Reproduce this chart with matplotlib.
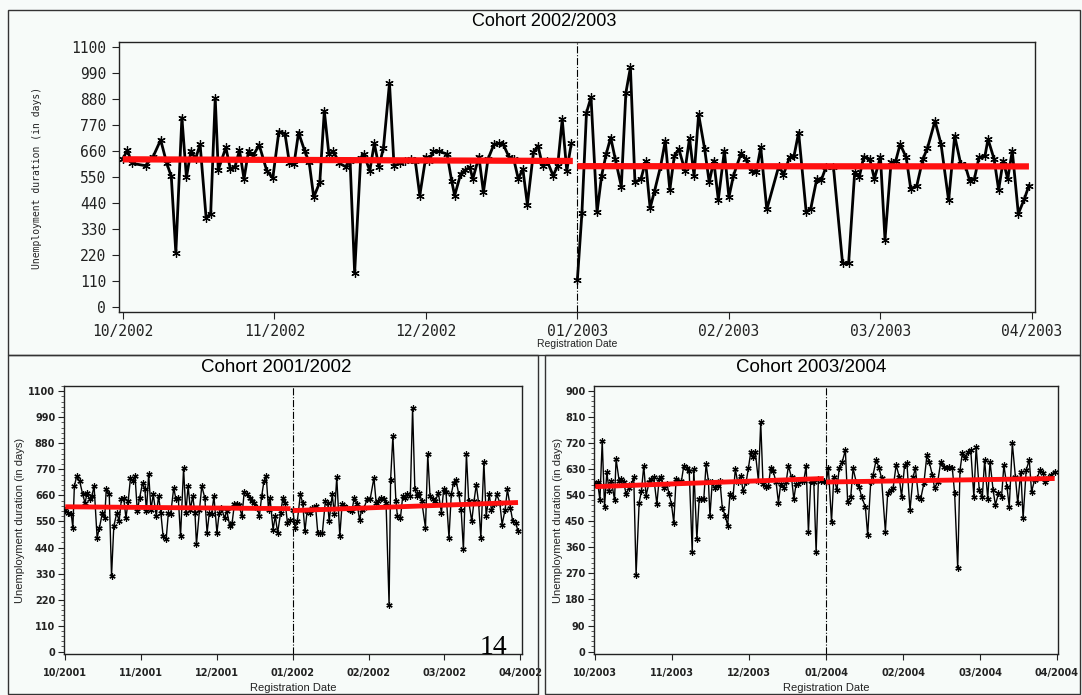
import matplotlib
matplotlib.use('Agg')
import matplotlib.pyplot as plt
from matplotlib.patches import Rectangle
from matplotlib.ticker import MultipleLocator

# x values are months since the start of October (0 = 10/yyyy, 6 = 04/yyyy)
month_labels_0203 = ['10/2002', '11/2002', '12/2002', '01/2003', '02/2003', '03/2003', '04/2003']
month_labels_0102 = ['10/2001', '11/2001', '12/2001', '01/2002', '02/2002', '03/2002', '04/2002']
month_labels_0304 = ['10/2003', '11/2003', '12/2003', '01/2004', '02/2004', '03/2004', '04/2004']

# ---- Cohort 2002/2003 ----
top_x1 = [0.00, 0.03, 0.06, 0.15, 0.20, 0.25, 0.29, 0.32, 0.35, 0.39,
          0.42, 0.45, 0.48, 0.51, 0.55, 0.58, 0.61, 0.63, 0.68, 0.71,
          0.74, 0.77, 0.80, 0.83, 0.86, 0.90, 0.95, 0.99, 1.03, 1.07,
          1.10, 1.13, 1.16, 1.20, 1.23, 1.26, 1.30, 1.33, 1.36, 1.39,
          1.43, 1.47, 1.50, 1.53, 1.57, 1.59, 1.63, 1.66, 1.69, 1.72,
          1.76, 1.79, 1.83, 1.86, 1.90, 1.93, 1.96, 2.00, 2.02, 2.05,
          2.09, 2.14, 2.17, 2.19, 2.23, 2.26, 2.29, 2.31, 2.35, 2.38,
          2.41, 2.45, 2.48, 2.51, 2.55, 2.58, 2.61, 2.64, 2.67, 2.71,
          2.74, 2.77, 2.80, 2.84, 2.87, 2.90, 2.93, 2.96]
top_y1 = [625, 663, 607, 597, 635, 706, 607, 552, 229, 800,
          548, 660, 625, 688, 376, 394, 883, 579, 674, 583,
          590, 663, 541, 660, 639, 685, 576, 545, 741, 733,
          607, 604, 737, 660, 611, 464, 527, 828, 646, 657,
          607, 593, 618, 143, 629, 646, 576, 691, 593, 671,
          946, 597, 607, 615, 625, 618, 471, 635, 618, 657,
          657, 646, 534, 471, 562, 579, 590, 541, 635, 485,
          625, 688, 691, 688, 632, 625, 541, 583, 433, 653,
          681, 597, 618, 555, 597, 793, 576, 691]
top_x2 = [3.00, 3.03, 3.06, 3.09, 3.13, 3.16, 3.19, 3.22, 3.25, 3.29,
          3.32, 3.35, 3.38, 3.42, 3.45, 3.48, 3.51, 3.55, 3.58, 3.61,
          3.64, 3.67, 3.71, 3.74, 3.77, 3.80, 3.84, 3.87, 3.90, 3.93,
          3.97, 4.00, 4.03, 4.08, 4.11, 4.15, 4.18, 4.21, 4.25, 4.33,
          4.36, 4.40, 4.43, 4.46, 4.51, 4.54, 4.58, 4.61, 4.64, 4.69,
          4.75, 4.79, 4.83, 4.86, 4.89, 4.93, 4.96, 5.00, 5.03, 5.07,
          5.10, 5.13, 5.17, 5.20, 5.24, 5.28, 5.31, 5.36, 5.40, 5.45,
          5.49, 5.53, 5.56, 5.59, 5.62, 5.65, 5.69, 5.71, 5.75, 5.78,
          5.81, 5.84, 5.87, 5.91, 5.95, 5.98]
top_y2 = [115, 397, 821, 886, 401, 555, 646, 716, 625, 509,
          905, 1012, 527, 541, 615, 418, 492, 597, 702, 495,
          639, 667, 576, 713, 555, 814, 667, 527, 618, 453,
          660, 464, 555, 649, 625, 576, 569, 674, 412, 597,
          559, 632, 639, 737, 401, 415, 541, 537, 590, 590,
          185, 185, 569, 548, 635, 625, 541, 635, 285, 611,
          615, 688, 632, 499, 513, 625, 671, 786, 688, 450,
          723, 604, 597, 531, 541, 632, 639, 709, 625, 495,
          618, 541, 660, 394, 457, 513]
top_trend_x = [[0.0, 2.97], [3.0, 5.98]]
top_trend_y = [[624, 617], [595, 594]]

# ---- Cohort 2001/2002 ----
bl_x1 = [0.00, 0.04, 0.08, 0.10, 0.12, 0.15, 0.19, 0.23, 0.26, 0.29,
         0.32, 0.35, 0.38, 0.42, 0.45, 0.49, 0.52, 0.54, 0.58, 0.61,
         0.64, 0.68, 0.71, 0.74, 0.77, 0.80, 0.83, 0.86, 0.89, 0.92,
         0.95, 0.98, 1.02, 1.05, 1.07, 1.10, 1.13, 1.16, 1.20, 1.23,
         1.26, 1.29, 1.33, 1.36, 1.39, 1.43, 1.46, 1.49, 1.52, 1.56,
         1.59, 1.62, 1.65, 1.68, 1.71, 1.73, 1.77, 1.80, 1.84, 1.87,
         1.90, 1.93, 1.96, 2.00, 2.03, 2.06, 2.10, 2.13, 2.17, 2.20,
         2.23, 2.26, 2.29, 2.33, 2.36, 2.40, 2.43, 2.46, 2.49, 2.53,
         2.56, 2.59, 2.62, 2.65, 2.68, 2.70, 2.74, 2.77, 2.80, 2.84,
         2.87, 2.90, 2.93, 2.97]
bl_y1 = [600, 587, 580, 523, 699, 741, 720, 664, 629, 671,
         643, 657, 699, 481, 523, 587, 565, 685, 664, 319,
         530, 587, 551, 643, 650, 565, 636, 734, 720, 741,
         594, 650, 713, 685, 594, 751, 600, 664, 573, 657,
         587, 488, 474, 587, 580, 692, 643, 650, 488, 774,
         587, 699, 600, 657, 587, 453, 600, 699, 650, 502,
         587, 580, 657, 502, 587, 608, 565, 594, 530, 544,
         622, 622, 619, 573, 675, 664, 650, 636, 629, 608,
         573, 657, 720, 741, 600, 650, 516, 573, 502, 587,
         650, 629, 544, 558]
bl_x2 = [3.00, 3.03, 3.06, 3.10, 3.13, 3.16, 3.19, 3.23, 3.26, 3.30,
         3.33, 3.36, 3.39, 3.43, 3.46, 3.48, 3.52, 3.55, 3.58, 3.62,
         3.65, 3.68, 3.71, 3.75, 3.78, 3.81, 3.85, 3.88, 3.91, 3.94,
         3.98, 4.02, 4.07, 4.10, 4.13, 4.16, 4.20, 4.23, 4.27, 4.29,
         4.32, 4.36, 4.38, 4.42, 4.45, 4.48, 4.51, 4.55, 4.58, 4.61,
         4.64, 4.67, 4.70, 4.75, 4.78, 4.81, 4.85, 4.88, 4.92, 4.96,
         4.99, 5.02, 5.06, 5.09, 5.12, 5.15, 5.19, 5.22, 5.25, 5.29,
         5.32, 5.36, 5.39, 5.42, 5.45, 5.48, 5.52, 5.55, 5.59, 5.62,
         5.66, 5.69, 5.73, 5.76, 5.80, 5.83, 5.87, 5.90, 5.94, 5.97]
bl_y2 = [600, 523, 551, 664, 629, 509, 594, 587, 608, 615,
         502, 502, 502, 636, 629, 551, 664, 580, 737, 488,
         622, 615, 608, 600, 594, 650, 622, 558, 600, 608,
         643, 643, 734, 629, 636, 650, 643, 629, 197, 727,
         910, 636, 573, 565, 657, 650, 664, 657, 1030, 685,
         657, 671, 636, 523, 833, 657, 643, 636, 671, 587,
         685, 675, 481, 664, 713, 727, 664, 600, 432, 835,
         636, 551, 636, 706, 629, 481, 802, 573, 664, 600,
         622, 664, 629, 537, 600, 685, 608, 551, 544, 509]
bl_trend_x = [[0.0, 2.97], [3.0, 5.97]]
bl_trend_y = [[612, 604], [596, 630]]

# ---- Cohort 2003/2004 ----
br_x1 = [0.00, 0.03, 0.06, 0.09, 0.12, 0.15, 0.18, 0.21, 0.25, 0.27,
         0.31, 0.34, 0.37, 0.40, 0.44, 0.47, 0.50, 0.53, 0.57, 0.60,
         0.63, 0.66, 0.70, 0.73, 0.76, 0.80, 0.83, 0.86, 0.89, 0.93,
         0.96, 0.99, 1.02, 1.05, 1.08, 1.12, 1.15, 1.19, 1.22, 1.26,
         1.28, 1.32, 1.35, 1.38, 1.41, 1.44, 1.47, 1.49, 1.52, 1.55,
         1.59, 1.62, 1.65, 1.69, 1.72, 1.75, 1.79, 1.82, 1.85, 1.89,
         1.92, 1.96, 1.99, 2.02, 2.05, 2.08, 2.12, 2.15, 2.18, 2.22,
         2.25, 2.28, 2.31, 2.35, 2.38, 2.41, 2.45, 2.48, 2.51, 2.55,
         2.58, 2.61, 2.64, 2.68, 2.71, 2.74, 2.77, 2.80, 2.84, 2.87,
         2.90, 2.93, 2.97]
br_y1 = [578, 584, 523, 727, 500, 618, 555, 589, 523, 664,
         589, 595, 584, 543, 566, 578, 601, 265, 514, 555,
         641, 538, 584, 595, 601, 509, 595, 601, 566, 578,
         543, 509, 445, 595, 584, 589, 641, 635, 624, 342,
         630, 388, 526, 526, 526, 647, 589, 468, 584, 566,
         572, 589, 497, 468, 434, 543, 532, 630, 584, 607,
         555, 584, 633, 687, 670, 687, 589, 791, 578, 569,
         572, 635, 624, 584, 514, 578, 566, 584, 641, 601,
         526, 578, 578, 589, 589, 641, 411, 589, 584, 342,
         595, 589, 589]
br_x2 = [3.00, 3.03, 3.07, 3.10, 3.14, 3.17, 3.21, 3.25, 3.28, 3.32,
         3.35, 3.39, 3.43, 3.46, 3.51, 3.54, 3.58, 3.61, 3.65, 3.69,
         3.72, 3.77, 3.80, 3.84, 3.87, 3.91, 3.95, 3.98, 4.02, 4.05,
         4.09, 4.13, 4.16, 4.20, 4.23, 4.27, 4.31, 4.34, 4.38, 4.41,
         4.45, 4.49, 4.53, 4.57, 4.60, 4.64, 4.67, 4.71, 4.74, 4.77,
         4.81, 4.85, 4.88, 4.92, 4.95, 4.99, 5.03, 5.06, 5.10, 5.13,
         5.17, 5.20, 5.24, 5.28, 5.31, 5.35, 5.38, 5.42, 5.46, 5.49,
         5.53, 5.56, 5.60, 5.64, 5.67, 5.71, 5.74, 5.78, 5.82, 5.85,
         5.89, 5.92, 5.97]
br_y2 = [586, 632, 448, 603, 557, 632, 655, 695, 517, 534,
         632, 586, 569, 534, 500, 402, 586, 609, 661, 632,
         598, 414, 546, 557, 563, 644, 603, 534, 643, 649,
         488, 603, 632, 534, 528, 580, 678, 655, 609, 563,
         586, 655, 638, 632, 638, 632, 546, 287, 626, 684,
         667, 690, 695, 534, 707, 557, 534, 661, 528, 655,
         557, 506, 546, 534, 643, 569, 500, 718, 603, 511,
         621, 460, 626, 661, 552, 592, 598, 626, 615, 586,
         598, 609, 621]
br_trend_x = [[0.0, 2.97], [3.0, 5.97]]
br_trend_y = [[569, 597], [585, 597]]

BG = '#f7fbf9'
W, H = 1082, 695
ASTERISK = (6, 2, 0)


def px_rect(left, top, right, bottom):
    # pixel box -> figure fraction [l, b, w, h]
    return [left / W, 1 - bottom / H, (right - left) / W, (bottom - top) / H]


def draw_panel(ax, xs, ys, tx, ty, labels, yticks, ylim, xlim, big):
    lw = 2.0 if big else 1.0
    ms = 6 if big else 4.5
    for x, y in zip(xs, ys):
        ax.plot(x, y, color='black', lw=lw, marker=ASTERISK, ms=ms, mew=0.9, zorder=3)
    for x, y in zip(tx, ty):
        ax.plot(x, y, color='#ff1010', lw=4.5 if big else 3.5, solid_capstyle='butt', zorder=4)
    ax.axvline(3, color='black', lw=0.8, ls='-.', zorder=2)
    ax.set_xlim(*xlim)
    ax.set_ylim(*ylim)
    ax.set_xticks(range(7))
    ax.set_xticklabels(labels)
    ax.set_yticks(yticks)
    ax.set_facecolor(BG)
    for s in ax.spines.values():
        s.set_color('#222222')
        s.set_linewidth(1.0)


fig = plt.figure(figsize=(W / 100, H / 100), dpi=100, facecolor=BG)

# panel frames
for l, t, r, b in [(8, 10, 1080, 355), (8, 355, 538, 694), (545, 355, 1080, 694)]:
    fig.add_artist(Rectangle((l / W, 1 - b / H), (r - l) / W, (b - t) / H,
                             transform=fig.transFigure, fill=False,
                             ec='#333333', lw=1.0))

# top panel
ax_top = fig.add_axes(px_rect(118.7, 41.7, 1035, 311.7))
draw_panel(ax_top, [top_x1, top_x2], [top_y1, top_y2], top_trend_x, top_trend_y,
           month_labels_0203, range(0, 1101, 110), (-20, 1121), (-0.027, 6.02), True)
ax_top.tick_params(axis='both', direction='out', length=5, width=0.8, color='#222222')
ax_top.tick_params(axis='x', pad=4)
ax_top.tick_params(axis='y', pad=4)
for lab in ax_top.get_xticklabels() + ax_top.get_yticklabels():
    lab.set_fontfamily('DejaVu Sans Mono')
    lab.set_fontsize(10.5)
    lab.set_color('#222222')

fig.text(544 / W, 1 - 22 / H, 'Cohort 2002/2003', ha='center', va='center',
         fontsize=13, family='Liberation Sans')
fig.text(37 / W, 1 - 178 / H, 'Unemployment duration (in days)', rotation=90,
         ha='center', va='center', fontsize=7, family='DejaVu Sans Mono', color='#222222')
fig.text(577 / W, 1 - 344 / H, 'Registration Date', ha='center', va='center',
         fontsize=7.5, family='Liberation Sans', color='#222222')

# bottom panels
bottom_specs = [
    (px_rect(63.6, 386, 522.4, 654), [bl_x1, bl_x2], [bl_y1, bl_y2], bl_trend_x, bl_trend_y,
     month_labels_0102, range(0, 1101, 110), (-9.7, 1122), (-0.022, 6.028),
     'Cohort 2001/2002', 276, 20, 293),
    (px_rect(593.6, 386, 1058.5, 654), [br_x1, br_x2], [br_y1, br_y2], br_trend_x, br_trend_y,
     month_labels_0304, range(0, 901, 90), (-8, 916), (-0.022, 6.02),
     'Cohort 2003/2004', 811, 558, 826),
]
for rect, xs, ys, tx, ty, labels, yt, ylim, xlim, title, tcx, ylx, xlx in bottom_specs:
    ax = fig.add_axes(rect)
    draw_panel(ax, xs, ys, tx, ty, labels, yt, ylim, xlim, False)
    ax.yaxis.set_minor_locator(MultipleLocator(yt[1] / 5))
    ax.tick_params(axis='both', which='major', direction='out', length=4, width=0.8, color='#222222')
    ax.tick_params(axis='y', which='minor', direction='out', length=2, width=0.6, color='#444444')
    ax.tick_params(axis='x', pad=6)
    ax.tick_params(axis='y', pad=2)
    for lab in ax.get_xticklabels() + ax.get_yticklabels():
        lab.set_fontfamily('DejaVu Sans')
        lab.set_fontweight('bold')
        lab.set_fontsize(7)
        lab.set_color('#222222')
    fig.text(tcx / W, 1 - 367 / H, title, ha='center', va='center',
             fontsize=13.5, family='Liberation Sans')
    fig.text(ylx / W, 1 - 520 / H, 'Unemployment duration (in days)', rotation=90,
             ha='center', va='center', fontsize=8, family='Liberation Sans', color='#222222')
    fig.text(xlx / W, 1 - 688 / H, 'Registration Date', ha='center', va='center',
             fontsize=8, family='Liberation Sans', color='#222222')

# page number overlay
fig.text(493 / W, 1 - 648 / H, '14', ha='center', va='center',
         fontsize=20, family='Liberation Serif')

plt.savefig('out.png', dpi=100, facecolor=BG)
